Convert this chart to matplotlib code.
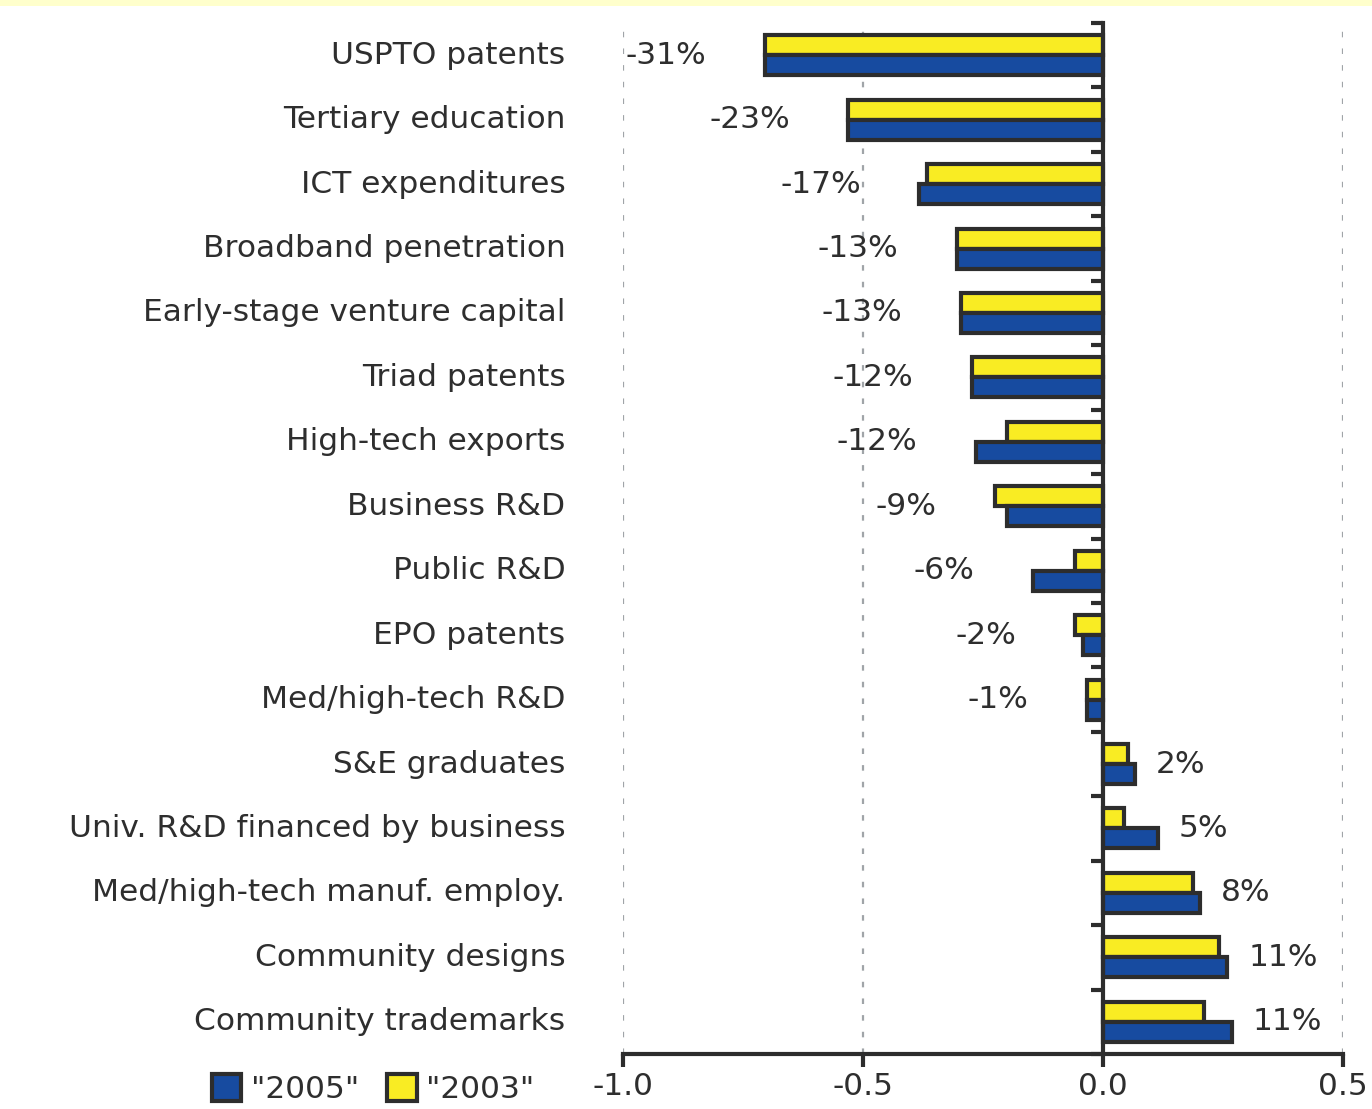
import numpy as np
import matplotlib.pyplot as plt
from matplotlib.patches import Patch, Rectangle
from matplotlib.transforms import blended_transform_factory

# Показники (зверху вниз)
categories = [
    'USPTO patents', 'Tertiary education', 'ICT expenditures',
    'Broadband penetration', 'Early-stage venture capital', 'Triad patents',
    'High-tech exports', 'Business R&D', 'Public R&D', 'EPO patents',
    'Med/high-tech R&D', 'S&E graduates', 'Univ. R&D financed by business',
    'Med/high-tech manuf. employ.', 'Community designs', 'Community trademarks',
]
values_2005 = [-0.704, -0.531, -0.383, -0.304, -0.296, -0.273, -0.265, -0.200,
               -0.146, -0.042, -0.033, 0.067, 0.115, 0.202, 0.259, 0.269]
values_2003 = [-0.704, -0.531, -0.367, -0.304, -0.296, -0.273, -0.200, -0.225,
               -0.058, -0.058, -0.033, 0.052, 0.044, 0.188, 0.242, 0.210]
pct_labels = ['-31%', '-23%', '-17%', '-13%', '-13%', '-12%', '-12%', '-9%',
              '-6%', '-2%', '-1%', '2%', '5%', '8%', '11%', '11%']
xticks = [-1.0, -0.5, 0.0, 0.5]

BLUE = '#174ba0'
YELLOW = '#f9ec23'
EDGE = '#2d2d2d'
TEXT = '#2e2e2e'
FS = 22.5

fig = plt.figure(figsize=(13.72, 11.09), dpi=100)
ax = fig.add_axes([623 / 1372, 1 - 1054 / 1109, 720 / 1372, (1054 - 23) / 1109])

# світло-жовта смуга зверху
fig.patches.append(Rectangle((0, 1 - 6 / 1109), 1, 6 / 1109, transform=fig.transFigure,
                             facecolor='#ffffcc', edgecolor='none'))

y = np.arange(len(categories))
h = 0.31
ax.barh(y - h / 2, values_2003, height=h, color=YELLOW, edgecolor=EDGE, linewidth=3, zorder=3)
ax.barh(y + h / 2, values_2005, height=h, color=BLUE, edgecolor=EDGE, linewidth=3, zorder=3)

ax.set_xlim(-1.0, 0.5)
ax.set_ylim(len(categories) - 0.5, -0.5)

# сітка
for xv in xticks:
    if xv != 0:
        ax.axvline(xv, color='#a0a4a8', linestyle=(0, (2.5, 5)), linewidth=1.6, zorder=1)

# осі
for s in ['top', 'right']:
    ax.spines[s].set_visible(False)
ax.spines['left'].set_position(('data', 0))
ax.spines['left'].set_linewidth(3)
ax.spines['left'].set_color(EDGE)
ax.spines['left'].set_zorder(4)
ax.spines['bottom'].set_linewidth(3)
ax.spines['bottom'].set_color(EDGE)

ax.set_yticks([])
ax.set_yticks(np.arange(len(categories) + 1) - 0.5, minor=True)
ax.tick_params(axis='y', which='minor', length=9, width=3, color=EDGE, direction='out')

ax.set_xticks(xticks)
ax.set_xticklabels([f'{v:.1f}' for v in xticks])
ax.tick_params(axis='x', length=9, width=3, color=EDGE, labelsize=FS, labelcolor=TEXT, pad=4)

# назви категорій
trans = blended_transform_factory(ax.transAxes, ax.transData)
for yi, name in zip(y, categories):
    ax.text(-0.08, yi, name, transform=trans, ha='right', va='center',
            fontsize=FS, color=TEXT)

# підписи відсотків
for yi, a, b, lab in zip(y, values_2005, values_2003, pct_labels):
    if a < 0:
        ax.annotate(lab, xy=(min(a, b), yi), xytext=(-42, 0), textcoords='offset points',
                    ha='right', va='center', fontsize=FS, color=TEXT)
    else:
        ax.annotate(lab, xy=(max(a, b), yi), xytext=(15, 0), textcoords='offset points',
                    ha='left', va='center', fontsize=FS, color=TEXT)

handles = [Patch(facecolor=BLUE, edgecolor=EDGE, linewidth=3, label='"2005"'),
           Patch(facecolor=YELLOW, edgecolor=EDGE, linewidth=3, label='"2003"')]
fig.legend(handles=handles, ncol=2, loc='center', bbox_to_anchor=(373 / 1372, 1 - 1089 / 1109),
           frameon=False, fontsize=FS, labelcolor=TEXT, handlelength=0.95, handleheight=0.95,
           handletextpad=0.3, columnspacing=0.9, borderpad=0.1)

fig.savefig('out.png', dpi=100)
